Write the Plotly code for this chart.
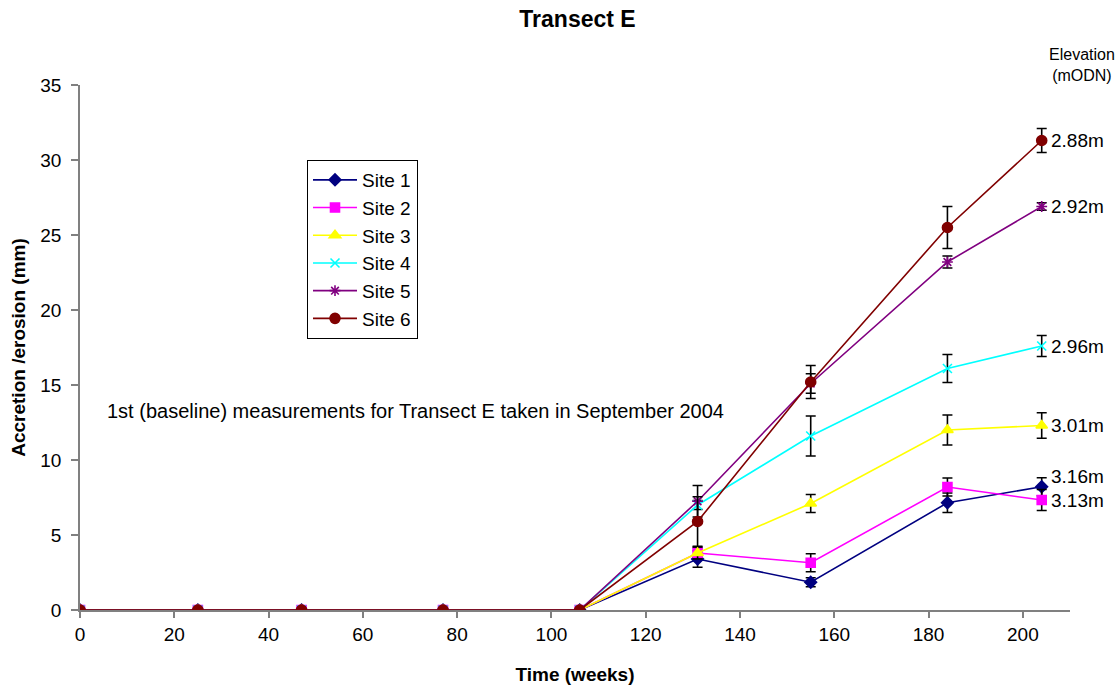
import plotly.graph_objects as go

weeks = [0, 25, 47, 77, 106, 131, 155, 184, 204]
site_names = ["Site 1", "Site 2", "Site 3", "Site 4", "Site 5", "Site 6"]
site1 = [0, 0, 0, 0, 0, 3.4, 1.85, 7.15, 8.22]
site2 = [0, 0, 0, 0, 0, 3.8, 3.15, 8.2, 7.33]
site3 = [0, 0, 0, 0, 0, 3.8, 7.1, 12.0, 12.3]
site4 = [0, 0, 0, 0, 0, 7.0, 11.6, 16.1, 17.6]
site5 = [0, 0, 0, 0, 0, 7.25, 15.1, 23.2, 26.9]
site6 = [0, 0, 0, 0, 0, 5.9, 15.2, 25.5, 31.3]
err1 = [0, 0, 0, 0, 0, 0.55, 0.3, 0.65, 0.6]
err2 = [0, 0, 0, 0, 0, 0.35, 0.6, 0.6, 0.7]
err3 = [0, 0, 0, 0, 0, 0.4, 0.6, 1.0, 0.85]
err4 = [0, 0, 0, 0, 0, 0.3, 1.33, 0.93, 0.7]
err5 = [0, 0, 0, 0, 0, 1.05, 0.65, 0.4, 0.25]
err6 = [0, 0, 0, 0, 0, 1.65, 1.1, 1.4, 0.8]
elev_labels = ["3.16m", "3.13m", "3.01m", "2.96m", "2.92m", "2.88m"]
elev_label_y = [8.87, 7.33, 12.27, 17.6, 26.87, 31.33]
x_ticks = [0, 20, 40, 60, 80, 100, 120, 140, 160, 180, 200]

series = [site1, site2, site3, site4, site5, site6]
errors = [err1, err2, err3, err4, err5, err6]
colors = ["#000080", "#FF00FF", "#FFFF00", "#00FFFF", "#800080", "#800000"]
symbols = ["diamond", "square", "triangle-up", "x-thin", "asterisk", "circle"]
sizes = [9, 9, 10, 9, 9, 10]

FONT = "Liberation Sans, Arial, sans-serif"

# plot area at x 80..1070, y 85..610 of the 1117x690 window
W, H = 1117, 690
ML, MR, MT, MB = 80, 1117 - 1070, 85, 690 - 610

fig = go.Figure()
for i, (name, ys, es, c, sym, sz) in enumerate(zip(site_names, series, errors, colors, symbols, sizes)):
    fig.add_trace(go.Scatter(
        x=weeks, y=ys, name=name, mode="lines+markers", legendgroup=f"g{i}",
        line=dict(color=c, width=1.6),
        marker=dict(color=c, symbol=sym, size=sz,
                    line=dict(color=c, width=1.6)),
        error_y=dict(type="data", array=es, visible=True, color="black",
                     thickness=1.6, width=5),
    ))

for lab, yv in zip(elev_labels, elev_label_y):
    fig.add_annotation(x=204, y=yv, xref="x", yref="y", text=lab,
                       showarrow=False, xanchor="left", yanchor="middle",
                       xshift=7, font=dict(size=19, color="black", family=FONT))

fig.add_annotation(xref="x domain", yref="y domain",
                   x=(1082 - 80) / 990, y=(610 - 65) / 525,
                   xanchor="center", yanchor="middle",
                   text="Elevation<br>(mODN)", showarrow=False,
                   font=dict(size=16, color="black", family=FONT))

fig.add_annotation(xref="x domain", yref="y domain", x=(105 - 80) / 990,
                   y=(610 - 411) / 525, xanchor="left", yanchor="middle",
                   text="1st (baseline) measurements for Transect E taken in September 2004",
                   showarrow=False, font=dict(size=20, color="black", family=FONT))

fig.update_layout(
    width=W, height=H,
    margin=dict(l=ML, r=MR, t=MT, b=MB),
    paper_bgcolor="white", plot_bgcolor="white",
    font=dict(family=FONT, size=19, color="black"),
    title=dict(text="<b>Transect E</b>", x=577.5 / W, xanchor="center",
               y=1 - 19 / H, yanchor="middle",
               font=dict(size=23, color="black", family=FONT)),
    showlegend=True,
    legend=dict(x=(307 - 80) / 990, y=(610 - 160) / 525, xanchor="left", yanchor="top",
                bordercolor="black", borderwidth=1, bgcolor="white",
                font=dict(size=19, color="black", family=FONT),
                tracegroupgap=0, itemwidth=44),
    xaxis=dict(range=[0, 210], tickmode="array", tickvals=x_ticks,
               showline=True, linecolor="#808080", linewidth=1.5,
               ticks="outside", ticklen=6, tickcolor="#808080", tickwidth=1.5,
               showgrid=False, zeroline=False, automargin=False,
               title=dict(text="<b>Time (weeks)</b>", standoff=24,
                          font=dict(size=19, color="black", family=FONT))),
    yaxis=dict(range=[0, 35], dtick=5, tick0=0,
               showline=True, linecolor="#808080", linewidth=1.5,
               ticks="outside", ticklen=7, tickcolor="#808080", tickwidth=1.5,
               ticklabelstandoff=6, automargin=False,
               showgrid=False, zeroline=False,
               title=dict(text="<b>Accretion /erosion (mm)</b>", standoff=10,
                          font=dict(size=19, color="black", family=FONT))),
)

fig.write_html("out.html", config={"displayModeBar": False},
               post_script="document.body.style.margin='0';document.body.style.overflow='hidden';")
